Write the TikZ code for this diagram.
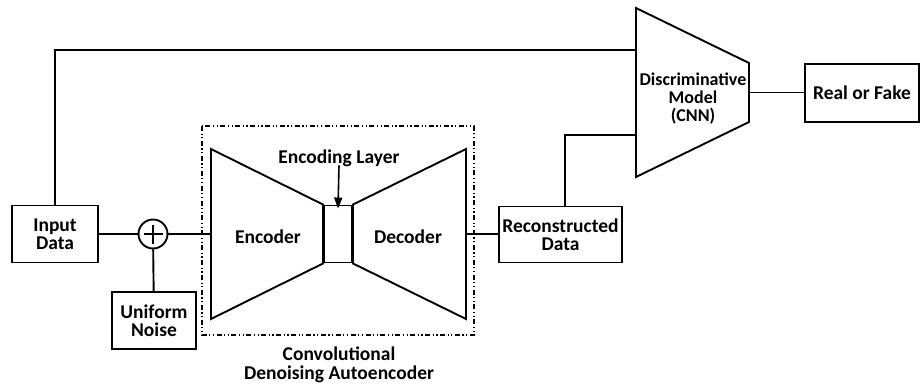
\documentclass[tikz,border=0pt]{standalone}
\usepackage{fontspec}
\setmainfont{Carlito}
\usetikzlibrary{arrows.meta}
\newcommand\lbl{\fontsize{19.5}{18.5}\selectfont\bfseries}

\begin{document}
\begin{tikzpicture}[x=1pt, y=-1pt, line width=1.9pt,
    box/.style={draw, align=center, font=\lbl, inner sep=0pt},
    txt/.style={align=center, font=\lbl, inner sep=0pt},
    summer/.style={draw, circle, inner sep=0pt, minimum size=29pt,
      path picture={\draw[line width=1.8pt] ([xshift=-9.5pt]path picture bounding box.center) -- ([xshift=9.5pt]path picture bounding box.center)
        ([yshift=-9.5pt]path picture bounding box.center) -- ([yshift=9.5pt]path picture bounding box.center);}},
    frame/.style={line width=1.2pt, dash pattern=on 5pt off 2.5pt on 1.2pt off 2.5pt on 1.2pt off 2.5pt}]
  \useasboundingbox (0,0) rectangle (922,389);

  \node[box, minimum width=86pt, minimum height=57pt] (input) at (55,234) {Input\\Data};
  \node[summer] (sum) at (153,234) {};
  \node[box, minimum width=84pt, minimum height=57pt] (noise) at (154,320.5) {Uniform\\Noise};
  \node[box, minimum width=28pt, minimum height=57pt] (code) at (338,234) {};
  \node[box, minimum width=123pt, minimum height=56pt] (recon) at (560.5,234.5) {Reconstructed\\Data};
  \node[box, minimum width=114pt, minimum height=58pt] (realfake) at (862,93) {Real or Fake};

  \coordinate (enc-in) at (211,234);
  \coordinate (dec-out) at (466,234);
  \coordinate (disc-top) at (636,50);
  \coordinate (disc-bot) at (636,135);
  \coordinate (disc-out) at (749,92.5);

  \draw (enc-in |- 0,149) -- (code.north west) -- (code.south west) -- (enc-in |- 0,319) -- cycle;
  \draw (dec-out |- 0,149) -- (code.north east) -- (code.south east) -- (dec-out |- 0,319) -- cycle;
  \draw (636,8) -- (749,63) -- (749,122) -- (636,177) -- cycle;
  \draw[frame] (202,126) rectangle (474,335);

  \node[txt] (enc) at (268,237) {Encoder};
  \node[txt] (dec) at (408,237) {Decoder};
  \node[txt] (layer) at (339,158) {Encoding Layer};
  \node[txt, font=\fontsize{18}{18}\selectfont\bfseries] (disc) at (693,99) {Discriminative\\Model\\(CNN)};
  \node[txt] (cdae) at (339,365) {Convolutional\\Denoising Autoencoder};

  \draw (input) -- (sum);
  \draw (noise) -- (sum);
  \draw (sum) -- (enc-in);
  \draw (dec-out) -- (dec-out -| recon.west);
  \draw (input.north) |- (disc-top);
  \draw ([xshift=4.5pt]recon.north) |- (disc-bot);
  \draw (disc-out) -- (disc-out -| realfake.west);
  \draw[line width=1.6pt, -{Triangle[length=11pt,width=8pt]}] ([yshift=2pt]layer.south) -- ([yshift=-4pt]code.north);
\end{tikzpicture}
\end{document}
